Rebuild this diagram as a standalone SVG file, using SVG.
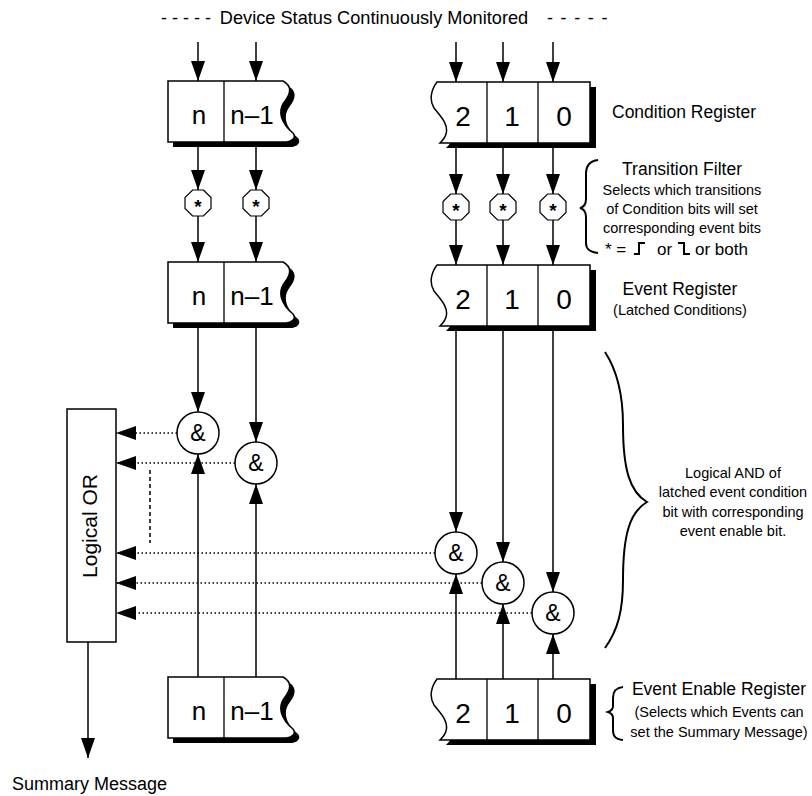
<svg xmlns="http://www.w3.org/2000/svg" xmlns:xlink="http://www.w3.org/1999/xlink" width="812" height="796" viewBox="0 0 812 796">
<style>
text{font-family:"Liberation Sans",Arial,sans-serif;fill:#000}
.reg{fill:#fff;stroke:#000;stroke-width:1.5}
.shadow{fill:#000}
.div{stroke:#000;stroke-width:1.3}
.big{font-size:28px;text-anchor:middle}
.lbl{font-size:17.5px}
.small{font-size:14.5px;text-anchor:middle}
.c{text-anchor:middle}
.wire{stroke:#000;stroke-width:1.5;fill:none}
.arr{stroke:#000;stroke-width:1.5;fill:none;marker-end:url(#ah)}
.dot{stroke:#000;stroke-width:1.5;fill:none;stroke-dasharray:1.5 2.5;marker-end:url(#ah)}
.dash{stroke:#000;stroke-width:1.5;fill:none;stroke-dasharray:4 3}
.oct{fill:#fff;stroke:#000;stroke-width:1.2}
.and{fill:#fff;stroke:#000;stroke-width:1.5}
.amp{font-size:23px;text-anchor:middle}
.star{font-size:19px;font-weight:bold;text-anchor:middle}
.brace{fill:none;stroke:#000;stroke-width:2}
</style>
<defs>
<marker id="ah" viewBox="0 0 20 14" refX="20" refY="7" markerWidth="20" markerHeight="14" orient="auto" markerUnits="userSpaceOnUse">
<path d="M0,0 L20,7 L0,14 z" fill="#000"/>
</marker>
<path id="regL" d="M168,0 H283 C292,5 291,12 285,20 C277,30 281,42 293,52 C297,57 291,61 286,61 H168 Z"/>
<path id="regR" d="M437,0 H590 V61 H440 C442,59 445,56 446,52 C449,42 440,34 434,26 C429,18 431,8 437,0 Z"/>
<polygon id="octa" points="5.4,-13 13,-5.4 13,5.4 5.4,13 -5.4,13 -13,5.4 -13,-5.4 -5.4,-13"/>
</defs>

<g id="title">
<text x="161" y="24" style="font-size:18px">- - - - -</text>
<text x="374" y="24" class="c" style="font-size:18.2px">Device Status Continuously Monitored</text>
<text x="547" y="24" style="font-size:18px;letter-spacing:1.3px">- - - - -</text>
</g>

<g id="connectors">
<line class="arr" x1="198" y1="42" x2="198" y2="81"/>
<line class="arr" x1="256" y1="42" x2="256" y2="81"/>
<line class="arr" x1="456" y1="42" x2="456" y2="82"/>
<line class="arr" x1="503" y1="42" x2="503" y2="82"/>
<line class="arr" x1="553" y1="42" x2="553" y2="82"/>

<line class="arr" x1="198" y1="147" x2="198" y2="190"/>
<line class="arr" x1="256" y1="147" x2="256" y2="190"/>
<line class="arr" x1="456" y1="148" x2="456" y2="194"/>
<line class="arr" x1="503" y1="148" x2="503" y2="194"/>
<line class="arr" x1="553" y1="148" x2="553" y2="194"/>

<line class="arr" x1="198" y1="216" x2="198" y2="262"/>
<line class="arr" x1="256" y1="216" x2="256" y2="262"/>
<line class="arr" x1="456" y1="220" x2="456" y2="265"/>
<line class="arr" x1="503" y1="220" x2="503" y2="265"/>
<line class="arr" x1="553" y1="220" x2="553" y2="265"/>

<line class="arr" x1="198" y1="328" x2="198" y2="412"/>
<line class="arr" x1="256" y1="328" x2="256" y2="442"/>
<line class="arr" x1="456" y1="330" x2="456" y2="532"/>
<line class="arr" x1="503" y1="330" x2="503" y2="562"/>
<line class="arr" x1="553" y1="330" x2="553" y2="592"/>

<line class="arr" x1="198" y1="677" x2="198" y2="454"/>
<line class="arr" x1="256" y1="677" x2="256" y2="484"/>
<line class="arr" x1="456" y1="679" x2="456" y2="574"/>
<line class="arr" x1="503" y1="679" x2="503" y2="604"/>
<line class="arr" x1="553" y1="679" x2="553" y2="634"/>

<line class="dot" x1="177" y1="433" x2="116" y2="433"/>
<line class="dot" x1="235" y1="463" x2="116" y2="463"/>
<line class="dot" x1="435" y1="553" x2="116" y2="553"/>
<line class="dot" x1="482" y1="583" x2="116" y2="583"/>
<line class="dot" x1="532" y1="613" x2="116" y2="613"/>

<line class="dash" x1="150" y1="470" x2="150" y2="543"/>

<line class="arr" x1="88" y1="642" x2="88" y2="758"/>
</g>

<g id="cond-left" transform="translate(0,81)">
<use xlink:href="#regL" class="shadow" transform="translate(5,5)"/>
<use xlink:href="#regL" class="reg"/>
<line class="div" x1="224" y1="0" x2="224" y2="61"/>
<text x="199" y="43" class="big" style="font-size:26px">n</text>
<text x="252" y="43" class="big" style="font-size:26px">n–1</text>
</g>
<g id="cond-right" transform="translate(0,82)">
<use xlink:href="#regR" class="shadow" transform="translate(6,5)"/>
<use xlink:href="#regR" class="reg"/>
<line class="div" x1="487" y1="0" x2="487" y2="61"/>
<line class="div" x1="538" y1="0" x2="538" y2="61"/>
<text x="463" y="44" class="big">2</text>
<text x="512" y="44" class="big">1</text>
<text x="564" y="44" class="big">0</text>
</g>
<text x="612" y="118" class="lbl">Condition Register</text>

<g id="filters">
<g transform="translate(198,203)"><use xlink:href="#octa" class="oct"/><text y="10" class="star">*</text></g>
<g transform="translate(256,203)"><use xlink:href="#octa" class="oct"/><text y="10" class="star">*</text></g>
<g transform="translate(456,207)"><use xlink:href="#octa" class="oct"/><text y="10" class="star">*</text></g>
<g transform="translate(503,207)"><use xlink:href="#octa" class="oct"/><text y="10" class="star">*</text></g>
<g transform="translate(553,207)"><use xlink:href="#octa" class="oct"/><text y="10" class="star">*</text></g>
</g>

<g id="transition-label">
<path class="brace" d="M598,160 C589,161 586,166 586,174 L586,199 C586,204 584,207 580,208 C584,209 586,212 586,217 L586,243 C586,249 589,252 598,253"/>
<text x="682" y="175" class="c" style="font-size:17.5px">Transition Filter</text>
<text x="682" y="195" class="small">Selects which transitions</text>
<text x="682" y="214" class="small">of Condition bits will set</text>
<text x="682" y="233" class="small">corresponding event bits</text>
<text x="605" y="255" style="font-size:17px">* =</text>
<path d="M634,254 H639 V243 H645" fill="none" stroke="#000" stroke-width="2"/>
<text x="657" y="255" style="font-size:17px">or</text>
<path d="M678,243 H684 V254 H690" fill="none" stroke="#000" stroke-width="2"/>
<text x="695" y="255" style="font-size:17px">or both</text>
</g>

<g id="event-left" transform="translate(0,262)">
<use xlink:href="#regL" class="shadow" transform="translate(5,5)"/>
<use xlink:href="#regL" class="reg"/>
<line class="div" x1="224" y1="0" x2="224" y2="61"/>
<text x="199" y="43" class="big" style="font-size:26px">n</text>
<text x="252" y="43" class="big" style="font-size:26px">n–1</text>
</g>
<g id="event-right" transform="translate(0,265)">
<use xlink:href="#regR" class="shadow" transform="translate(6,5)"/>
<use xlink:href="#regR" class="reg"/>
<line class="div" x1="487" y1="0" x2="487" y2="61"/>
<line class="div" x1="538" y1="0" x2="538" y2="61"/>
<text x="463" y="44" class="big">2</text>
<text x="512" y="44" class="big">1</text>
<text x="564" y="44" class="big">0</text>
</g>
<text x="680" y="295" class="c" style="font-size:17.5px">Event Register</text>
<text x="680" y="315" class="c" style="font-size:14.5px">(Latched Conditions)</text>

<g id="and-gates">
<g transform="translate(198,433)"><circle r="21" class="and"/><text y="8" class="amp">&amp;</text></g>
<g transform="translate(256,463)"><circle r="21" class="and"/><text y="8" class="amp">&amp;</text></g>
<g transform="translate(456,553)"><circle r="21" class="and"/><text y="8" class="amp">&amp;</text></g>
<g transform="translate(503,583)"><circle r="21" class="and"/><text y="8" class="amp">&amp;</text></g>
<g transform="translate(553,613)"><circle r="21" class="and"/><text y="8" class="amp">&amp;</text></g>
</g>

<g id="logical-or">
<rect x="67" y="409" width="49" height="233" fill="#fff" stroke="#000" stroke-width="1.5"/>
<text transform="translate(97,526) rotate(-90)" class="c" style="font-size:21px">Logical OR</text>
</g>
<text x="12" y="790" style="font-size:18px">Summary Message</text>

<g id="and-label">
<path class="brace" d="M605,352 C618,372 623,395 623,425 C623,470 630,492 647,502 C630,512 623,534 623,580 C623,610 618,630 605,648"/>
<text x="733" y="478" class="small">Logical AND of</text>
<text x="733" y="497" class="small">latched event condition</text>
<text x="733" y="517" class="small">bit with corresponding</text>
<text x="733" y="536" class="small">event enable bit.</text>
</g>

<g id="enable-left" transform="translate(0,677)">
<use xlink:href="#regL" class="shadow" transform="translate(5,5)"/>
<use xlink:href="#regL" class="reg"/>
<line class="div" x1="224" y1="0" x2="224" y2="61"/>
<text x="199" y="43" class="big" style="font-size:26px">n</text>
<text x="252" y="43" class="big" style="font-size:26px">n–1</text>
</g>
<g id="enable-right" transform="translate(0,679)">
<use xlink:href="#regR" class="shadow" transform="translate(6,5)"/>
<use xlink:href="#regR" class="reg"/>
<line class="div" x1="487" y1="0" x2="487" y2="61"/>
<line class="div" x1="538" y1="0" x2="538" y2="61"/>
<text x="463" y="44" class="big">2</text>
<text x="512" y="44" class="big">1</text>
<text x="564" y="44" class="big">0</text>
</g>
<g id="enable-label">
<path class="brace" d="M623,687 C615,688 613,692 613,698 V706 C613,709 611,711 608,712 C611,713 613,715 613,718 V730 C613,736 615,739 623,740"/>
<text x="719" y="695" class="c" style="font-size:17.5px">Event Enable Register</text>
<text x="719" y="717" class="small">(Selects which Events can</text>
<text x="719" y="737" class="small">set the Summary Message)</text>
</g>
</svg>
